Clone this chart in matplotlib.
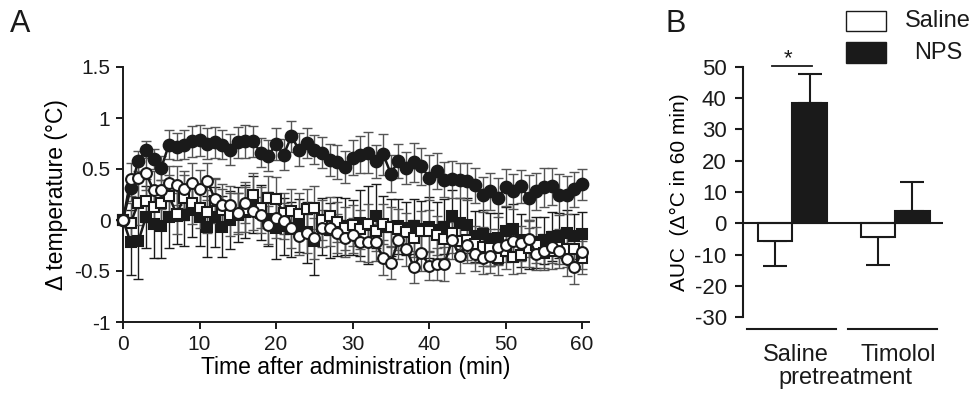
import numpy as np
import matplotlib
matplotlib.use("Agg")
import matplotlib.pyplot as plt
from matplotlib.patches import Rectangle
import matplotlib.transforms as mtransforms

plt.rcParams.update({
    "font.family": ["Liberation Sans", "DejaVu Sans"],
    "text.color": "#1a1a1a",
    "axes.edgecolor": "#1a1a1a",
    "xtick.color": "#1a1a1a",
    "ytick.color": "#1a1a1a",
    "axes.linewidth": 1.4,
})

# ---- panel A data: time course (mean, SEM) ----
time_min = np.arange(0, 61)

nps_mean = [0.00, 0.31, 0.58, 0.69, 0.60, 0.51, 0.74, 0.72, 0.74, 0.77,
            0.78, 0.75, 0.76, 0.74, 0.69, 0.76, 0.77, 0.77, 0.66, 0.63,
            0.745, 0.64, 0.82, 0.69, 0.755, 0.69, 0.66, 0.59, 0.57, 0.52,
            0.61, 0.64, 0.66, 0.575, 0.645, 0.455, 0.58, 0.51, 0.565, 0.525,
            0.415, 0.48, 0.395, 0.40, 0.39, 0.38, 0.34, 0.25, 0.28, 0.22,
            0.32, 0.28, 0.33, 0.22, 0.28, 0.32, 0.33, 0.25, 0.245, 0.30,
            0.35]
nps_sem = [0.00, 0.12, 0.10, 0.08, 0.10, 0.12, 0.14, 0.13, 0.14, 0.15,
           0.15, 0.15, 0.15, 0.14, 0.15, 0.15, 0.16, 0.15, 0.14, 0.15,
           0.16, 0.15, 0.15, 0.16, 0.15, 0.14, 0.15, 0.16, 0.17, 0.16,
           0.17, 0.18, 0.20, 0.16, 0.20, 0.18, 0.17, 0.16, 0.19, 0.18,
           0.22, 0.18, 0.17, 0.18, 0.17, 0.18, 0.17, 0.17, 0.18, 0.19,
           0.18, 0.17, 0.16, 0.22, 0.18, 0.19, 0.18, 0.20, 0.19, 0.17,
           0.15]

open_circ_mean = [0.00, 0.40, 0.41, 0.46, 0.29, 0.29, 0.36, 0.34, 0.30, 0.36,
                  0.30, 0.38, 0.21, 0.15, 0.15, 0.07, 0.17, 0.09, 0.05, -0.05,
                  0.02, -0.01, -0.08, -0.16, -0.13, -0.18, -0.08, -0.08, -0.13, -0.18,
                  -0.15, -0.22, -0.22, -0.22, -0.37, -0.42, -0.20, -0.28, -0.46, -0.32,
                  -0.45, -0.43, -0.43, -0.20, -0.35, -0.245, -0.33, -0.37, -0.35, -0.265,
                  -0.245, -0.205, -0.23, -0.185, -0.33, -0.305, -0.265, -0.305, -0.385, -0.465,
                  -0.31]
open_circ_sem = [0.00, 0.16, 0.18, 0.17, 0.19, 0.18, 0.17, 0.19, 0.18, 0.20,
                 0.19, 0.18, 0.19, 0.20, 0.18, 0.19, 0.20, 0.19, 0.18, 0.19,
                 0.20, 0.18, 0.19, 0.18, 0.19, 0.20, 0.18, 0.17, 0.19, 0.18,
                 0.17, 0.18, 0.19, 0.18, 0.17, 0.16, 0.18, 0.17, 0.16, 0.18,
                 0.14, 0.16, 0.17, 0.18, 0.17, 0.18, 0.17, 0.16, 0.17, 0.18,
                 0.17, 0.16, 0.17, 0.18, 0.16, 0.17, 0.16, 0.17, 0.16, 0.16,
                 0.17]

open_sq_mean = [0.00, -0.03, 0.17, 0.19, 0.13, 0.17, 0.235, 0.06, 0.22, 0.17,
                0.12, 0.08, 0.19, 0.10, 0.05, 0.06, 0.10, 0.25, 0.12, 0.22,
                0.205, 0.065, 0.09, 0.06, 0.11, 0.12, 0.00, 0.04, -0.02, -0.08,
                -0.05, -0.09, -0.04, -0.11, -0.04, -0.065, -0.09, -0.12, -0.18, -0.105,
                -0.105, -0.15, -0.19, -0.13, -0.21, -0.20, -0.24, -0.26, -0.27, -0.37,
                -0.30, -0.36, -0.34, -0.27, -0.245, -0.32, -0.30, -0.26, -0.28, -0.285,
                -0.37]
open_sq_sem = [0.00, 0.20, 0.22, 0.21, 0.20, 0.22, 0.21, 0.20, 0.22, 0.21,
               0.20, 0.21, 0.22, 0.20, 0.21, 0.20, 0.22, 0.21, 0.20, 0.21,
               0.22, 0.20, 0.21, 0.20, 0.19, 0.21, 0.20, 0.19, 0.20, 0.21,
               0.20, 0.19, 0.20, 0.19, 0.20, 0.19, 0.20, 0.19, 0.18, 0.19,
               0.20, 0.19, 0.18, 0.19, 0.18, 0.19, 0.18, 0.19, 0.18, 0.17,
               0.18, 0.17, 0.18, 0.19, 0.18, 0.17, 0.18, 0.17, 0.18, 0.17,
               0.16]

filled_sq_mean = [0.00, -0.22, -0.21, 0.03, -0.04, -0.055, 0.03, 0.04, 0.05, 0.10,
                  0.03, -0.065, 0.03, -0.065, 0.00, 0.05, 0.08, 0.15, 0.07, 0.01,
                  -0.08, -0.06, -0.09, -0.05, -0.12, -0.21, -0.06, -0.10, -0.06, -0.06,
                  -0.07, -0.03, -0.05, 0.04, -0.065, -0.07, -0.06, -0.08, -0.06, -0.09,
                  -0.07, -0.10, -0.065, 0.035, -0.03, -0.05, -0.16, -0.14, -0.19, -0.18,
                  -0.11, -0.09, -0.20, -0.24, -0.22, -0.20, -0.165, -0.155, -0.13, -0.16,
                  -0.135]
filled_sq_sem = [0.00, 0.32, 0.37, 0.30, 0.33, 0.32, 0.30, 0.28, 0.30, 0.27,
                 0.28, 0.30, 0.29, 0.30, 0.28, 0.27, 0.26, 0.28, 0.27, 0.26,
                 0.30, 0.28, 0.27, 0.26, 0.30, 0.33, 0.28, 0.27, 0.29, 0.28,
                 0.27, 0.32, 0.38, 0.31, 0.30, 0.28, 0.27, 0.26, 0.27, 0.28,
                 0.30, 0.28, 0.27, 0.26, 0.25, 0.27, 0.25, 0.24, 0.26, 0.25,
                 0.24, 0.25, 0.26, 0.24, 0.25, 0.23, 0.24, 0.22, 0.23, 0.22,
                 0.21]

# ---- panel B data: AUC ----
pretreatments = ["Saline", "Timolol"]
auc_saline = [-5.5, -4.5]
auc_saline_err = [8.0, 8.8]
auc_nps = [38.5, 4.0]
auc_nps_err = [9.2, 9.3]

W, H = 978, 395
fig = plt.figure(figsize=(W / 100, H / 100), dpi=100)


def fig_box(x0, y0, x1, y1):
    # pixel box (top-left origin) -> figure fraction rect
    return [x0 / W, 1 - y1 / H, (x1 - x0) / W, (y1 - y0) / H]


# ================= Panel A =================
ax = fig.add_axes(fig_box(123, 67, 589, 322))
ink = "#1a1a1a"
bar_grey = "#555555"

# drawing order: filled squares, open squares, filled circles, open circles
series = [
    (filled_sq_mean, filled_sq_sem, "s", ink, 7.0, ink),
    (open_sq_mean, open_sq_sem, "s", "white", 7.0, bar_grey),
    (nps_mean, nps_sem, "o", ink, 8.4, bar_grey),
    (open_circ_mean, open_circ_sem, "o", "white", 7.8, bar_grey),
]
for i, (m, e, mk, fc, ms, ec) in enumerate(series):
    ax.errorbar(time_min, m, yerr=e, fmt="none", ecolor=ec, elinewidth=1.0,
                capsize=3.8, capthick=1.0, zorder=2 + i * 0.1, clip_on=False)
for i, (m, e, mk, fc, ms, ec) in enumerate(series):
    ax.plot(time_min, m, color=ink, lw=1.8, marker=mk, ms=ms, mfc=fc,
            mec=ink, mew=1.5, zorder=3 + i, clip_on=False)

ax.set_xlim(0, 60.9)
ax.set_ylim(-1, 1.5)
ax.set_xticks([0, 10, 20, 30, 40, 50, 60])
ax.set_yticks([-1, -0.5, 0, 0.5, 1, 1.5])
ax.set_yticklabels(["-1", "-0.5", "0", "0.5", "1", "1.5"])
ax.spines["top"].set_visible(False)
ax.spines["right"].set_visible(False)
ax.tick_params(direction="out", length=5, width=1.4, labelsize=15, pad=4)
ax.set_xlabel("Time after administration (min)", fontsize=16.5, labelpad=2)
ax.set_ylabel("\u0394 temperature (\u00b0C)", fontsize=16.5, labelpad=5)
fig.text(10 / W, 1 - 32 / H, "A", fontsize=22)

# ================= Panel B =================
bx = fig.add_axes(fig_box(742.7, 66.7, 943.3, 317.3))
groups = np.arange(len(pretreatments))
bw = 0.336
bx.bar(groups - bw / 2, auc_saline, width=bw, color="white", edgecolor=ink,
       linewidth=1.5, zorder=3)
bx.bar(groups + bw / 2, auc_nps, width=bw, color=ink, edgecolor=ink,
       linewidth=1.5, zorder=3)
bx.errorbar(groups - bw / 2, auc_saline, yerr=[auc_saline_err, [0, 0]],
            fmt="none", ecolor=ink, elinewidth=1.5, capsize=8.5, capthick=1.5,
            zorder=2)
bx.errorbar(groups + bw / 2, auc_nps, yerr=[[0, 0], auc_nps_err],
            fmt="none", ecolor=ink, elinewidth=1.5, capsize=8.5, capthick=1.5,
            zorder=2)
bx.axhline(0, color=ink, lw=1.5, zorder=4)
bx.set_xlim(-0.483, 1.470)
bx.set_ylim(-30, 50)
bx.set_yticks(np.arange(-30, 51, 10))
bx.set_yticklabels([str(v) for v in range(-30, 51, 10)])
bx.set_xticks([])
for s in ("top", "right", "bottom"):
    bx.spines[s].set_visible(False)
bx.spines["left"].set_linewidth(1.5)
bx.tick_params(axis="y", direction="out", length=5.5, width=1.5, labelsize=16,
               pad=6)
bx.set_ylabel("AUC  (\u0394\u00b0C in 60 min)", fontsize=15, labelpad=4)

# group underlines and labels
trans = mtransforms.blended_transform_factory(bx.transData, bx.transAxes)
for x0, x1 in [(-0.444, 0.4226), (0.545, 1.412)]:
    bx.plot([x0, x1], [-0.048, -0.048], color=ink, lw=1.5, transform=trans,
            clip_on=False)
for g, name in zip(groups, pretreatments):
    bx.text(g + 0.03, -0.15, name, transform=trans, ha="center", va="center",
            fontsize=17)
bx.text(0.513, -0.243, "pretreatment", transform=trans, ha="center",
        va="center", fontsize=17)

# significance marker
bx.plot([-0.2, 0.195], [50.3, 50.3], color=ink, lw=1.3, clip_on=False)
bx.text(-0.04, 50.8, "*", ha="center", va="baseline", fontsize=16)

fig.text(665 / W, 1 - 32 / H, "B", fontsize=22)

# legend
fig.add_artist(Rectangle((845.7 / W, 1 - 31 / H), 40 / W, 20 / H,
                         transform=fig.transFigure, facecolor="white",
                         edgecolor=ink, lw=1.0))
fig.add_artist(Rectangle((845.7 / W, 1 - 63.3 / H), 40 / W, 21 / H,
                         transform=fig.transFigure, facecolor=ink,
                         edgecolor=ink, lw=1.0))
fig.text(937.5 / W, 1 - 21 / H, "Saline", ha="center", va="center", fontsize=17)
fig.text(938 / W, 1 - 53 / H, "NPS", ha="center", va="center", fontsize=17)

fig.savefig("out.png", dpi=100)
